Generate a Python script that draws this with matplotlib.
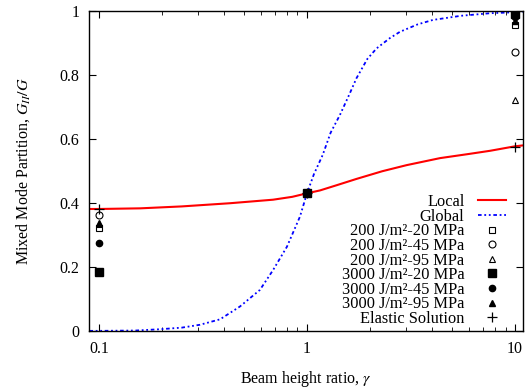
import matplotlib
matplotlib.use("Agg")
import matplotlib.pyplot as plt
from matplotlib.ticker import FuncFormatter, FixedLocator, LogLocator, NullFormatter

plt.rcParams['font.family'] = ['Liberation Serif', 'DejaVu Serif']
plt.rcParams['mathtext.fontset'] = 'stix'
plt.rcParams['font.size'] = 11.5

# curves
local_gamma = [0.09, 0.1, 0.158, 0.25, 0.427, 0.687, 0.85, 1.0, 1.155, 1.4, 1.73, 2.3, 3.01, 4.36, 6.0,
               7.6, 10.0, 11.0]
local_value = [0.381, 0.381, 0.383, 0.389, 0.399, 0.41, 0.419, 0.43, 0.439, 0.456, 0.475, 0.499, 0.518,
               0.54, 0.553, 0.563, 0.577, 0.58]

global_gamma = [0.09, 0.1, 0.15, 0.196, 0.25, 0.306, 0.382, 0.476, 0.594, 0.687, 0.801, 0.925, 1.0,
                1.08, 1.19, 1.3, 1.44, 1.6, 1.73, 1.95, 2.16, 2.5, 2.8, 3.4, 4.03, 5.5, 7.6, 10.0, 11.0]
global_value = [0.0, 0.0, 0.001, 0.005, 0.01, 0.019, 0.036, 0.076, 0.128, 0.19, 0.263, 0.357, 0.43,
                0.49, 0.55, 0.62, 0.675, 0.74, 0.79, 0.85, 0.883, 0.915, 0.935, 0.958, 0.972, 0.985,
                0.993, 0.996, 0.997]

# simulation points at gamma = 0.1, 1, 10
point_gamma = [0.1, 1.0, 10.0]
s200_20 = [0.32, 0.43, 0.956]
s200_45 = [0.362, 0.43, 0.873]
s200_95 = [0.335, 0.43, 0.722]
s3000_20 = [0.185, 0.43, 0.99]
s3000_45 = [0.274, 0.43, 0.98]
s3000_95 = [0.337, 0.43, 0.97]
elastic = [0.38, 0.43, 0.576]

fig = plt.figure(figsize=(5.26, 3.92), dpi=100)
ax = fig.add_axes([0.169, 0.156, 0.825, 0.816])

ax.plot(local_gamma, local_value, color='red', lw=1.5, label='Local')
ax.plot(global_gamma, global_value, color='blue', lw=1.3,
        linestyle=(0, (2, 1.5, 1, 1.5, 1, 1.5)), label='Global')

ax.plot(point_gamma, s200_20, 's', ls='none', mfc='none', mec='black', ms=5, mew=0.8,
        label='200 J/m²-20 MPa')
ax.plot(point_gamma, s200_45, 'o', ls='none', mfc='none', mec='black', ms=5, mew=0.8,
        label='200 J/m²-45 MPa')
ax.plot(point_gamma, s200_95, '^', ls='none', mfc='none', mec='black', ms=5, mew=0.8,
        label='200 J/m²-95 MPa')
ax.plot(point_gamma, s3000_20, 's', ls='none', color='black', ms=6,
        label='3000 J/m²-20 MPa')
ax.plot(point_gamma, s3000_45, 'o', ls='none', color='black', ms=4.5,
        label='3000 J/m²-45 MPa')
ax.plot(point_gamma, s3000_95, '^', ls='none', color='black', ms=4.5,
        label='3000 J/m²-95 MPa')
ax.plot(point_gamma, elastic, '+', ls='none', color='black', ms=7, mew=0.9,
        label='Elastic Solution')

ax.set_xscale('log')
ax.set_xlim(0.0895, 10.9)
ax.set_ylim(0, 1)
ax.xaxis.set_major_locator(FixedLocator([0.1, 1, 10]))
ax.xaxis.set_major_formatter(FuncFormatter(lambda v, p: f'{v:g}'))
ax.xaxis.set_minor_locator(LogLocator(base=10, subs=range(2, 10)))
ax.xaxis.set_minor_formatter(NullFormatter())
ax.set_yticks([0, 0.2, 0.4, 0.6, 0.8, 1.0])
ax.yaxis.set_major_formatter(FuncFormatter(lambda v, p: f'{v:g}'))
ax.tick_params(which='both', direction='in', top=True, right=True)
ax.tick_params(which='major', length=5, pad=7)
ax.tick_params(which='minor', length=3)
for s in ax.spines.values():
    s.set_linewidth(1.0)

ax.set_xlabel('Beam height ratio, $\\gamma$', labelpad=9)
ax.set_ylabel('Mixed Mode Partition, $G_{II}/G$', labelpad=20)

# gnuplot-style key: text right-aligned, symbol on the right
ax.legend(loc='lower right', bbox_to_anchor=(0.962, 0.012), frameon=False, markerfirst=False,
          handlelength=1.75, handletextpad=0.8, labelspacing=-0.085,
          borderaxespad=0, borderpad=0, fontsize=11.8)

fig.savefig('out.png', dpi=100)
